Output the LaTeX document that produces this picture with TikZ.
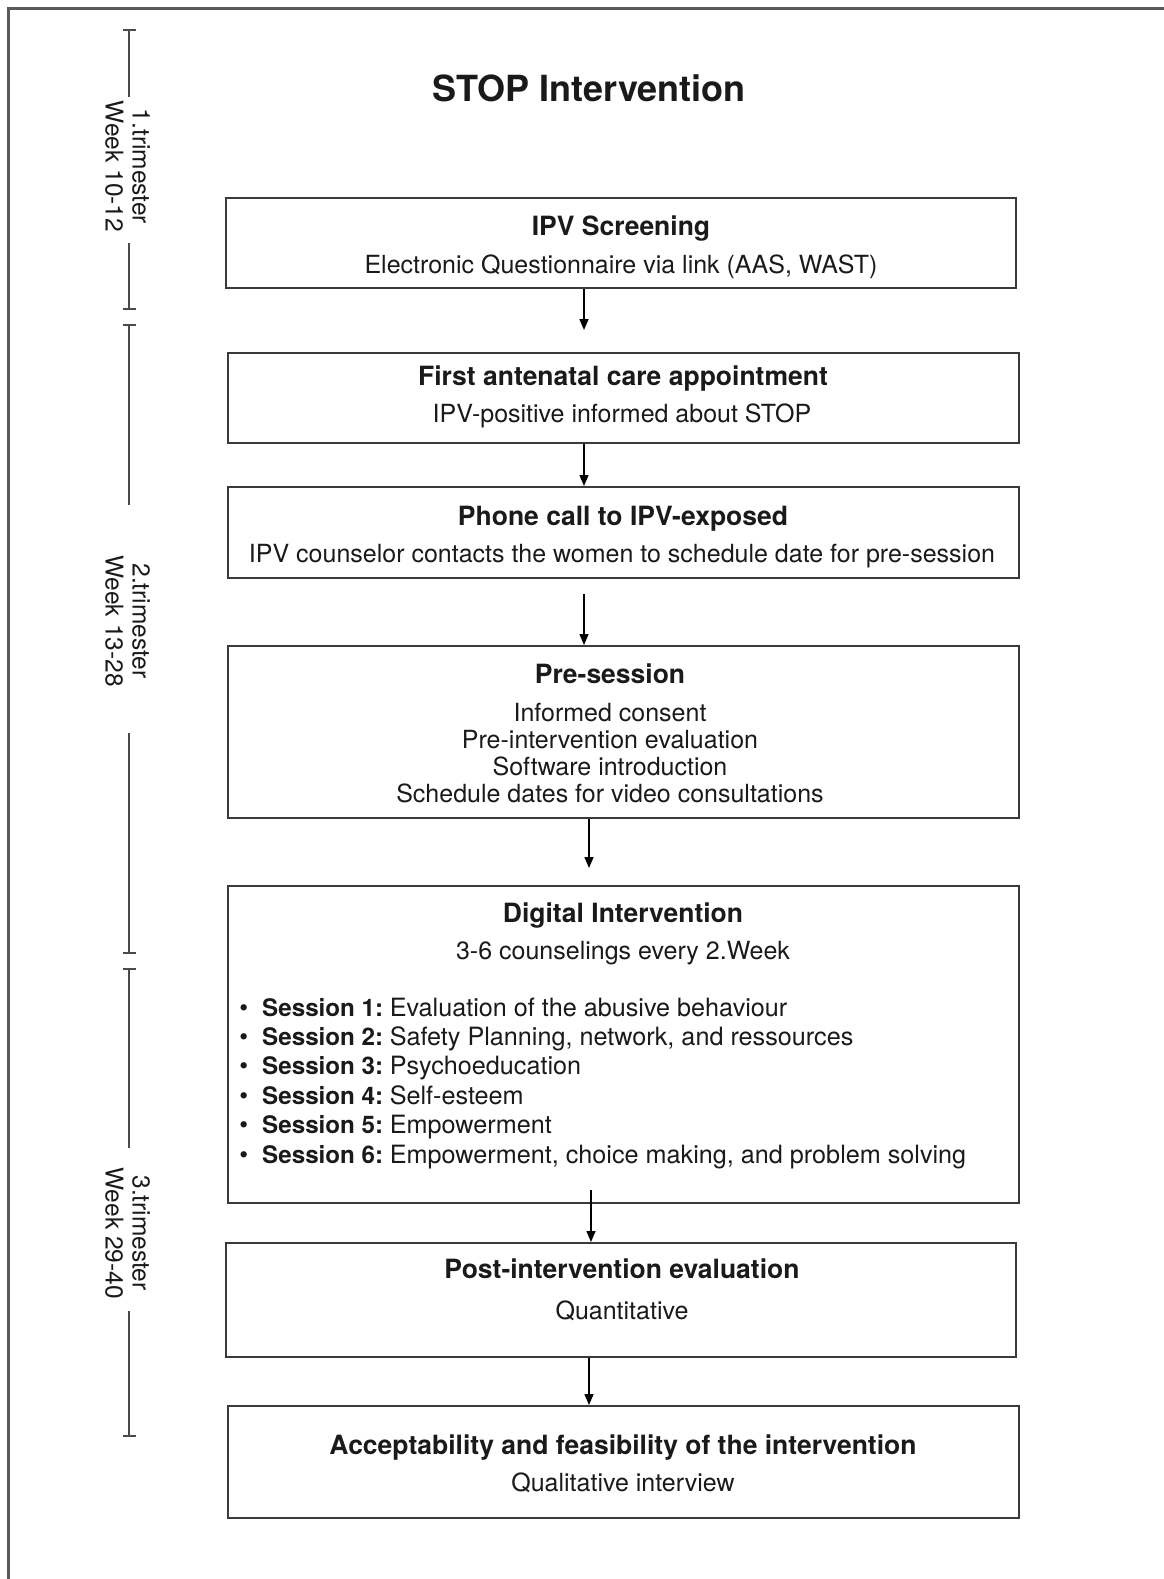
\documentclass[tikz,border=0pt]{standalone}
\usepackage{fontspec}
\setmainfont{TeX Gyre Heros}
\usetikzlibrary{arrows.meta}
\definecolor{boxline}{HTML}{3A3A3A}
\definecolor{frameline}{HTML}{5A5A5A}
\definecolor{tlline}{HTML}{4A4A4A}
\definecolor{txt}{HTML}{1A1A1A}
\newcommand{\sesslabel}[1]{\llap{\textbullet\hspace{14pt}}{\fontsize{24.2}{27}\selectfont\bfseries Session #1:}\hspace{6.5pt}}
\tikzset{
  box/.style={draw=boxline, line width=2pt, inner sep=0pt, rectangle},
  ttl/.style={anchor=base, inner sep=0pt, text=txt, font=\fontsize{26.5}{30}\selectfont\bfseries},
  sub/.style={anchor=base, inner sep=0pt, text=txt, font=\fontsize{25}{27}\selectfont},
  item/.style={anchor=base west, inner sep=0pt, text=txt, font=\fontsize{25.2}{27}\selectfont},
  arr/.style={draw=black, line width=1.5pt, -{Triangle[length=11pt,width=9pt]}},
  tline/.style={draw=tlline, line width=2pt},
  tlabel/.style={rotate=-90, align=center, inner sep=0pt, text=txt, font=\fontsize{24.5}{27}\selectfont},
  frame/.style={draw=frameline, line width=2.5pt}
}
\begin{document}
\begin{tikzpicture}[x=1pt, y=-1pt]
\useasboundingbox (0,0) rectangle (1164,1579);
\fill[white] (0,0) rectangle (1164,1579);
% outer frame (only top and left visible)
\draw[frame] (8.5,1579) -- (8.5,8.5) -- (1164,8.5);

% title
\node[anchor=base, inner sep=0pt, text=txt, font=\fontsize{36}{40}\selectfont\bfseries] (title) at (589,101.5) {STOP Intervention};

% boxes
\node[box, minimum width=790.5pt, minimum height=90pt] (b1) at (620.75,243) {};
\node[box, minimum width=791.5pt, minimum height=90pt] (b2) at (623.25,398) {};
\node[box, minimum width=791.5pt, minimum height=91pt] (b3) at (623.25,532.5) {};
\node[box, minimum width=791.5pt, minimum height=172pt] (b4) at (623.25,732) {};
\node[box, minimum width=791.5pt, minimum height=317pt] (b5) at (623.25,1044.5) {};
\node[box, minimum width=790.5pt, minimum height=114pt] (b6) at (620.75,1300) {};
\node[box, minimum width=791.5pt, minimum height=112pt] (b7) at (623.25,1462) {};

% box texts
\node[ttl] (t1) at (621,235) {IPV Screening};
\node[sub] (s1) at (621,273) {Electronic Questionnaire via link (AAS, WAST)};

\node[ttl] (t2) at (623,385) {First antenatal care appointment};
\node[sub] (s2) at (622,422) {IPV-positive informed about STOP};

\node[ttl] (t3) at (623,525) {Phone call to IPV-exposed};
\node[sub] (s3) at (622,562) {IPV counselor contacts the women to schedule date for pre-session};

\node[ttl] (t4) at (610,683) {Pre-session};
\node[sub] (s4a) at (610,721) {Informed consent};
\node[sub] (s4b) at (610,748) {Pre-intervention evaluation};
\node[sub] (s4c) at (610,775) {Software introduction};
\node[sub] (s4d) at (610,802) {Schedule dates for video consultations};

\node[ttl] (t5) at (623,922.5) {Digital Intervention};
\node[sub] (s5) at (623,959.5) {3-6 counselings every 2.Week};
\node[item] (i1) at (262,1016) {\sesslabel{1}Evaluation of the abusive behaviour};
\node[item] (i2) at (262,1045.5) {\sesslabel{2}Safety Planning, network, and ressources};
\node[item] (i3) at (262,1074.5) {\sesslabel{3}Psychoeducation};
\node[item] (i4) at (262,1104) {\sesslabel{4}Self-esteem};
\node[item] (i5) at (262,1133.5) {\sesslabel{5}Empowerment};
\node[item] (i6) at (262,1163) {\sesslabel{6}Empowerment, choice making, and problem solving};

\node[ttl] (t6) at (622,1278.5) {Post-intervention evaluation};
\node[sub] (s6) at (622,1319) {Quantitative};

\node[ttl] (t7) at (623,1454.5) {Acceptability and feasibility of the intervention};
\node[sub] (s7) at (623,1491) {Qualitative interview};

% arrows
\coordinate (x584) at (584,0);
\coordinate (x589) at (589,0);
\coordinate (x591) at (591,0);
\coordinate (e1) at (584,330);
\coordinate (s3a) at (584,594);
\coordinate (e4) at (589,868);
\coordinate (s5a) at (591,1190);
\draw[arr] (b1.south -| x584) -- (e1);
\draw[arr] (b2.south -| x584) -- (b3.north -| x584);
\draw[arr] (s3a) -- (b4.north -| x584);
\draw[arr] (b4.south -| x589) -- (e4);
\draw[arr] (s5a) -- (b6.north -| x591);
\draw[arr] (b6.south -| x589) -- (b7.north -| x589);

% timeline
\node[tlabel] (tr1) at (127.5,166.5) {1.trimester\\Week 10-12};
\node[tlabel] (tr2) at (127.5,621) {2.trimester\\Week 13-28};
\node[tlabel] (tr3) at (127.5,1233) {3.trimester\\Week 29-40};

\coordinate (p1a) at (129,30);  \coordinate (p1b) at (129,97);
\coordinate (p1c) at (129,243); \coordinate (p1d) at (129,309);
\coordinate (p2a) at (129,325); \coordinate (p2b) at (129,505);
\coordinate (p2c) at (129,733); \coordinate (p2d) at (129,953);
\coordinate (p3a) at (129,969); \coordinate (p3b) at (129,1148);
\coordinate (p3c) at (129,1311); \coordinate (p3d) at (129,1436);

\draw[tline] (p1a) -- (p1b);
\draw[tline] (p1c) -- (p1d);
\draw[tline] (p2a) -- (p2b);
\draw[tline] (p2c) -- (p2d);
\draw[tline] (p3a) -- (p3b);
\draw[tline] (p3c) -- (p3d);
\foreach \p in {p1a,p1d,p2a,p2d,p3a,p3d}{
  \draw[tline] ([xshift=-6.5pt]\p) -- ([xshift=6.5pt]\p);
}
\end{tikzpicture}
\end{document}
